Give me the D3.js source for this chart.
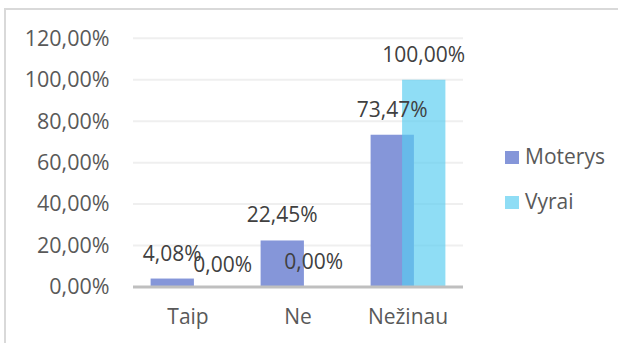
<!DOCTYPE html>
<html>
<head>
<meta charset="utf-8">
<script src="https://cdn.jsdelivr.net/npm/d3@7"></script>
<style>
  html, body { margin: 0; padding: 0; background: #fff; }
  svg { display: block; font-family: "Open Sans", "Noto Sans", sans-serif; }
</style>
</head>
<body>
<svg id="chart" width="618" height="343"></svg>
<script>
// Answer categories and the share of each group choosing them
const categories = ["Taip", "Ne", "Nežinau"];
const seriesNames = ["Moterys", "Vyrai"];
const moterys = [0.0408, 0.2245, 0.7347];
const vyrai = [0.0, 0.0, 1.0];
const yTicks = [0, 0.2, 0.4, 0.6, 0.8, 1.0, 1.2];

const colors = {
  Moterys: "#8596d9",
  Vyrai: "rgba(88, 204, 240, 0.67)"
};

const svg = d3.select("#chart");

// Outer chart frame
svg.append("rect")
  .attr("x", 5).attr("y", 9)
  .attr("width", 700).attr("height", 400)
  .attr("fill", "none")
  .attr("stroke", "#d9d9d9")
  .attr("stroke-width", 2);

const plot = { left: 133, right: 463, top: 38.3, bottom: 287 };

const y = d3.scaleLinear().domain([0, 1.2]).range([plot.bottom, plot.top]);
const x = d3.scaleBand()
  .domain(categories)
  .range([plot.left, plot.right])
  .paddingInner(0.32)
  .paddingOuter(0.16);

const barW = x.bandwidth() * 0.579;
const vyraiShift = x.bandwidth() - barW;

const pct = v => d3.format(".2f")(v * 100).replace(".", ",") + "%";

// Horizontal gridlines
svg.append("g")
  .selectAll("line")
  .data(yTicks.filter(t => t > 0))
  .join("line")
  .attr("x1", plot.left).attr("x2", plot.right)
  .attr("y1", d => y(d)).attr("y2", d => y(d))
  .attr("stroke", "#efefef")
  .attr("stroke-width", 2);

// Y axis labels
const yAxis = d3.axisLeft(y).tickValues(yTicks).tickFormat(pct).tickSize(0).tickPadding(0);
svg.append("g")
  .attr("transform", `translate(${plot.left - 23.5},0)`)
  .call(yAxis)
  .call(g => g.select(".domain").remove())
  .call(g => g.selectAll("text")
    .attr("fill", "#595959")
    .attr("font-size", "21.5px")
    .attr("font-family", "'Open Sans', 'Noto Sans', sans-serif"));

// Bars
const groups = svg.append("g")
  .selectAll("g")
  .data(categories)
  .join("g")
  .attr("transform", d => `translate(${x(d)},0)`);

groups.append("rect")
  .attr("x", 0)
  .attr("y", (d, i) => y(moterys[i]))
  .attr("width", barW)
  .attr("height", (d, i) => y(0) - y(moterys[i]))
  .attr("fill", colors.Moterys);

groups.append("rect")
  .attr("x", vyraiShift)
  .attr("y", (d, i) => y(vyrai[i]))
  .attr("width", barW)
  .attr("height", (d, i) => y(0) - y(vyrai[i]))
  .attr("fill", colors.Vyrai);

// Baseline
svg.append("line")
  .attr("x1", plot.left).attr("x2", plot.right)
  .attr("y1", y(0)).attr("y2", y(0))
  .attr("stroke", "#bfbfbf")
  .attr("stroke-width", 3);

// Value labels above bars; the first zero label is nudged aside to avoid its neighbour
const labelStyle = sel => sel
  .attr("text-anchor", "middle")
  .attr("fill", "#404040")
  .attr("font-size", "21px");

groups.append("text")
  .attr("x", barW / 2)
  .attr("y", (d, i) => y(moterys[i]) - 18)
  .text((d, i) => pct(moterys[i]))
  .call(labelStyle);

groups.append("text")
  .attr("x", (d, i) => vyraiShift + barW / 2 + (i === 0 ? 19 : 0))
  .attr("y", (d, i) => y(vyrai[i]) - (i === 0 ? 15 : 18))
  .text((d, i) => pct(vyrai[i]))
  .call(labelStyle);

// Category axis
const xAxis = d3.axisBottom(x).tickSize(0).tickPadding(0);
svg.append("g")
  .attr("transform", `translate(0,${plot.bottom + 22})`)
  .call(xAxis)
  .call(g => g.select(".domain").remove())
  .call(g => g.selectAll("text")
    .attr("fill", "#595959")
    .attr("font-size", "21px")
    .attr("font-family", "'Open Sans', 'Noto Sans', sans-serif"));

// Legend
const legend = svg.append("g")
  .selectAll("g")
  .data(seriesNames)
  .join("g")
  .attr("transform", (d, i) => `translate(505,${151 + i * 45})`);

legend.append("rect")
  .attr("width", 14).attr("height", 13)
  .attr("fill", d => colors[d]);

legend.append("text")
  .attr("x", 20).attr("y", 12.5)
  .attr("fill", "#595959")
  .attr("font-size", "21px")
  .text(d => d);
</script>
</body>
</html>
